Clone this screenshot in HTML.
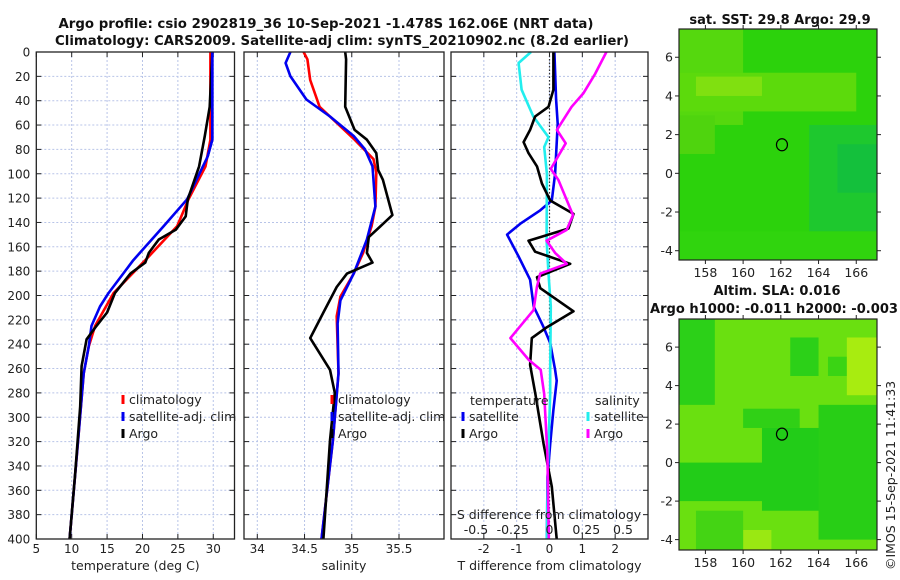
<!DOCTYPE html>
<html><head><meta charset="utf-8"><style>
html,body{margin:0;padding:0;background:#fff}
svg{display:block;font-family:"DejaVu Sans","Liberation Sans",sans-serif}
</style></head><body>
<svg id="fig" width="900" height="580" viewBox="0 0 900 580" xmlns="http://www.w3.org/2000/svg">
<g font-weight="bold" font-size="13" fill="#111" text-anchor="middle">
<text x="326" y="28" textLength="535" lengthAdjust="spacingAndGlyphs">Argo profile: csio 2902819_36 10-Sep-2021 -1.478S 162.06E (NRT data)</text>
<text x="342" y="45" textLength="574" lengthAdjust="spacingAndGlyphs">Climatology: CARS2009. Satellite-adj clim: synTS_20210902.nc (8.2d earlier)</text>
</g>
<g id="panels"></g>
<g id="maps"></g>
</svg>
<script>
// ---------- data ----------
const depthTicks = [0,20,40,60,80,100,120,140,160,180,200,220,240,260,280,300,320,340,360,380,400];
const tempTicks = [5,10,15,20,25,30];
const salTicks = [34,34.5,35,35.5];
const tdiffTicks = [-2,-1,0,1,2];
const sdiffTicks = [-0.5,-0.25,0,0.25,0.5];
const sdiffLabels = ["-0.5","-0.25","0","0.25","0.5"];

const tArgoD = [0,45,69,94,121,135,146,154,165,173,182,198,214,225,236,258,291,346,400];
const tArgoV = [29.86,29.5,28.8,28.0,26.4,26.1,24.7,22.3,20.9,20.4,18.3,16.1,15.0,13.5,12.1,11.4,11.2,10.5,9.7];
const tClimD = [0,72,94,121,143,171,198,225,242,264,319,400];
const tClimV = [29.6,29.6,28.9,26.5,24.9,20.4,15.9,13.3,12.4,11.7,10.9,9.7];
const tSatD = [0,72,86,121,143,171,198,209,225,242,264,319,400];
const tSatV = [29.86,29.86,29.2,26.3,23.0,18.7,15.2,14.0,12.8,12.4,11.7,10.9,9.7];

const sArgoD = [0,6,45,64,72,83,97,105,134,152,165,173,182,193,214,235,261,280,319,400];
const sArgoV = [34.93,34.94,34.93,35.03,35.16,35.26,35.28,35.33,35.43,35.18,35.16,35.22,34.95,34.84,34.70,34.56,34.77,34.82,34.77,34.70];
const sClimD = [0,6,23,45,61,72,88,99,127,143,165,182,201,217,264,319,400];
const sClimV = [34.49,34.53,34.56,34.66,34.88,35.03,35.23,35.26,35.25,35.21,35.12,35.02,34.88,34.84,34.86,34.80,34.68];
const sSatD = [0,9,20,39,53,69,80,94,127,154,182,204,223,264,319,400];
const sSatV = [34.35,34.30,34.35,34.52,34.77,35.02,35.14,35.22,35.25,35.16,35.02,34.88,34.85,34.86,34.80,34.68];

const dtSatD = [0,39,59,100,122,130,141,150,168,187,209,226,239,261,270,294,322,349,400];
const dtSatV = [0.15,0.2,0.25,0.17,0.07,-0.28,-0.89,-1.29,-0.94,-0.59,-0.48,-0.18,0.02,0.17,0.22,0.12,0.02,-0.06,-0.08];
const dtArgoD = [0,31,45,53,64,74,83,94,108,122,133,145,155,164,174,185,194,213,226,235,257,281,322,357,400];
const dtArgoV = [0.12,0.12,-0.03,-0.44,-0.59,-0.79,-0.64,-0.38,-0.23,0.02,0.73,0.58,-0.64,-0.44,0.63,-0.38,-0.28,0.73,-0.08,-0.54,-0.59,-0.43,-0.18,0.07,0.22];
const dsSatD = [0,9,31,53,70,78,100,155,182,209,261,281,336,400];
const dsSatV = [-0.126,-0.21,-0.19,-0.11,-0.007,-0.036,-0.018,-0.02,-0.007,0.009,0.005,0.005,-0.01,-0.018];
const dsArgoD = [0,18,34,45,64,75,96,105,134,146,155,165,174,182,193,212,235,253,261,281,330,400];
const dsArgoV = [0.387,0.31,0.23,0.15,0.05,0.11,0.009,0.06,0.16,0.117,-0.02,0.038,0.117,-0.063,-0.086,-0.108,-0.266,-0.14,-0.06,-0.036,-0.014,-0.005];

const lonTicks = [158,160,162,164,166];
const latTicks = [6,4,2,0,-2,-4];

// ---------- helpers ----------
const NS="http://www.w3.org/2000/svg";
function el(tag, attrs, parent){const e=document.createElementNS(NS,tag);for(const k in attrs)e.setAttribute(k,attrs[k]);if(parent)parent.appendChild(e);return e;}
const TOP=52, BOT=539;
const yD = d => TOP + (BOT-TOP)*d/400;
function lin(d0,d1,r0,r1){return v=>r0+(v-d0)*(r1-r0)/(d1-d0);}
const panelsG=document.getElementById('panels');

function drawPanel(name,x0,x1,xs,ticks,labels,xtitle,showY){
  const g=el('g',{},panelsG);
  
  
  depthTicks.forEach(d=>{ if(d>0&&d<400){const l=el('line',{x1:x0,x2:x1,y1:yD(d),y2:yD(d),stroke:'#b8c4e8','stroke-width':1,'stroke-dasharray':'2,2'},g);
     }});
  ticks.forEach(t=>{const x=xs(t); if(x>x0+1&&x<x1-1){const l=el('line',{x1:x,x2:x,y1:TOP,y2:BOT,stroke:'#b8c4e8','stroke-width':1,'stroke-dasharray':'2,2'},g);
     }});
  depthTicks.forEach(d=>{el('line',{x1:x0,x2:x0+5,y1:yD(d),y2:yD(d),stroke:'#222'},g);el('line',{x1:x1-5,x2:x1,y1:yD(d),y2:yD(d),stroke:'#222'},g);
    if(showY){const t=el('text',{x:x0-6,y:yD(d)+4.5,'text-anchor':'end','font-size':12,fill:'#222'},g);t.textContent=d;
       }});
  ticks.forEach((v,i)=>{const x=xs(v);el('line',{x1:x,x2:x,y1:BOT,y2:BOT-5,stroke:'#222'},g);el('line',{x1:x,x2:x,y1:TOP,y2:TOP+5,stroke:'#222'},g);
    const t=el('text',{x:x,y:BOT+14,'text-anchor':'middle','font-size':12,fill:'#222'},g);t.textContent=labels[i];
     });
  const xt=el('text',{x:(x0+x1)/2,y:570,'text-anchor':'middle','font-size':12.5,fill:'#222'},g);xt.textContent=xtitle;
   
  return g;
}
function border(g,x0,x1){const r=el('rect',{x:x0,y:TOP,width:x1-x0,height:BOT-TOP,fill:'none',stroke:'#222','stroke-width':1.3},g);
   }
function series(g,name,ds,vs,xs,color){
  const pts=ds.map((d,i)=>xs(vs[i]).toFixed(1)+','+yD(d).toFixed(1)).join(' ');
  const p=el('polyline',{points:pts,fill:'none',stroke:color,'stroke-width':2.6,'stroke-linejoin':'round'},g);
   
}
function legend(g,x,y,color,label,name){
  const gg=el('g',{},g);
   
  el('rect',{x:x-1.5,y:y-9,width:3,height:9,fill:color},gg);
  const t=el('text',{x:x+6,y:y,'font-size':12.5,fill:'#222'},gg);t.textContent=label;
}

// Panel 1: temperature
const xT=lin(5,33,36.3,234.5);
const p1=drawPanel('temperature-panel',36.3,234.5,xT,tempTicks,tempTicks.map(String),'temperature (deg C)',true);
series(p1,'temp-climatology-line',tClimD,tClimV,xT,'#ff0000');
series(p1,'temp-satellite-line',tSatD,tSatV,xT,'#0000f0');
series(p1,'temp-argo-line',tArgoD,tArgoV,xT,'#000');
series(p1,'temp-satellite-line-top',tSatD.slice(0,3),tSatV.slice(0,3),xT,'#0000f0');
legend(p1,123,404,'#ff0000','climatology','legend-climatology');
legend(p1,123,421,'#0000f0','satellite-adj. clim','legend-satellite');
legend(p1,123,438,'#000','Argo','legend-argo');
border(p1,36.3,234.5);

// Panel 2: salinity
const xS=lin(34,35.5,257.3,399);
const p2=drawPanel('salinity-panel',244,444,xS,salTicks,salTicks.map(String),'salinity',false);
series(p2,'sal-climatology-line',sClimD,sClimV,xS,'#ff0000');
series(p2,'sal-satellite-line',sSatD,sSatV,xS,'#0000f0');
series(p2,'sal-argo-line',sArgoD,sArgoV,xS,'#000');
legend(p2,332,404,'#ff0000','climatology','legend-climatology');
legend(p2,332,421,'#0000f0','satellite-adj. clim','legend-satellite');
legend(p2,332,438,'#000','Argo','legend-argo');
border(p2,244,444);

// Panel 3: differences
const xDT=lin(-3,3,451,648);
const xDS=lin(-0.67,0.67,451,648);
const p3=drawPanel('difference-panel',451,648,xDT,tdiffTicks,tdiffTicks.map(String),'T difference from climatology',false);
const zl=el('line',{x1:xDT(0),x2:xDT(0),y1:TOP,y2:BOT,stroke:'#333','stroke-width':1.2,'stroke-dasharray':'1.5,2'},p3);
 
series(p3,'tdiff-satellite-line',dtSatD,dtSatV,xDT,'#0000f0');
series(p3,'sdiff-satellite-line',dsSatD,dsSatV,xDS,'#22eeee');
series(p3,'tdiff-argo-line',dtArgoD,dtArgoV,xDT,'#000');
series(p3,'sdiff-argo-line',dsArgoD,dsArgoV,xDS,'#ff00ff');
const lt1=el('text',{x:470,y:405,'font-size':12.5,fill:'#222'},p3);lt1.textContent='temperature';
 
const lt2=el('text',{x:595,y:405,'font-size':12.5,fill:'#222'},p3);lt2.textContent='salinity';
 
legend(p3,463,421,'#0000f0','satellite','legend-t-satellite');
legend(p3,463,438,'#000','Argo','legend-t-argo');
legend(p3,588,421,'#22eeee','satellite','legend-s-satellite');
legend(p3,588,438,'#ff00ff','Argo','legend-s-argo');
const st=el('text',{x:549,y:519,'text-anchor':'middle','font-size':12.5,fill:'#222'},p3);st.textContent='S difference from climatology';
 
sdiffTicks.forEach((v,i)=>{const t=el('text',{x:xDS(v),y:534,'text-anchor':'middle','font-size':12.5,fill:'#222'},p3);t.textContent=sdiffLabels[i];
   });
border(p3,451,648);

// ---------- maps ----------
const mapsG=document.getElementById('maps');
function drawMap(name,y0,y1,latTop,latBot,base,patches,title){
  const x0=679,x1=877;
  const g=el('g',{},mapsG);
   
  const lon=lin(156.6,167.1,x0,x1), lat=lin(latTop,latBot,y0,y1);
  el('rect',{x:x0,y:y0,width:x1-x0,height:y1-y0,fill:base},g);
  patches.forEach(p=>{el('rect',{x:lon(p[0]),y:lat(p[3]),width:lon(p[1])-lon(p[0]),height:lat(p[2])-lat(p[3]),fill:p[4]},g);});
  const c=el('ellipse',{cx:lon(162.06),cy:lat(1.478),rx:5.5,ry:6,fill:'none',stroke:'#000','stroke-width':1.2},g);
   
  el('rect',{x:x0,y:y0,width:x1-x0,height:y1-y0,fill:'none',stroke:'#222','stroke-width':1.2},g);
  latTicks.forEach(v=>{const y=lat(v);el('line',{x1:x0-4,x2:x0,y1:y,y2:y,stroke:'#222'},g);el('line',{x1:x1,x2:x1+4,y1:y,y2:y,stroke:'#222'},g);
    const t=el('text',{x:x0-6,y:y+4.5,'text-anchor':'end','font-size':12.5,fill:'#222'},g);t.textContent=v;
     });
  lonTicks.forEach(v=>{const x=lon(v);el('line',{x1:x,x2:x,y1:y1,y2:y1+4,stroke:'#222'},g);el('line',{x1:x,x2:x,y1:y0-4,y2:y0,stroke:'#222'},g);
    const t=el('text',{x:x,y:y1+17,'text-anchor':'middle','font-size':12.5,fill:'#222'},g);t.textContent=v;
     });
  title.forEach(tt=>{const a={x:tt[0],y:tt[1],'text-anchor':'middle','font-size':13,'font-weight':'bold',fill:'#111'};
    if(tt[3]){a.textLength=tt[3];a.lengthAdjust='spacingAndGlyphs';}
    const t=el('text',a,g);t.textContent=tt[2];
     });
}
drawMap('sst-map',29,260,7.46,-4.48,'#2cd20c',[
  [156.6,160,2.5,7.46,'#55d80e'],[156.6,166,3.2,5.2,'#5cda0c'],[157.5,161,4,5,'#80e010'],
  [156.6,158.5,1,3,'#4fd40e'],[163.5,167.1,-3,2.5,'#1ec82e'],[165,167.1,-1,1.5,'#14c03c'],[156.6,167.1,-4.48,-3,'#30d40e']
],[[780,24,'sat. SST: 29.8 Argo: 29.9',0]]);
drawMap('sla-map',319,550,7.46,-4.54,'#6ae010',[
  [156.6,158.5,3,7.46,'#2cd018'],[162.5,164,4.5,6.5,'#2cd018'],[164.5,166,4.5,5.5,'#3ad414'],
  [161,167.1,-2.5,1.8,'#22cc18'],[156.6,167.1,-2,0,'#22cc18'],[164,167.1,-4,3,'#28ce16'],
  [160,163,1.8,2.8,'#30d016'],[165.5,167.1,3.5,6.5,'#a8ec10'],[160,161.5,-4.54,-3.5,'#9ae812'],[157.5,160,-4.54,-2.5,'#44d414']
],[[777,295,'Altim. SLA: 0.016',0],[774,313,'Argo h1000: -0.011 h2000: -0.003',248]]);
const cr=el('text',{x:0,y:0,'font-size':12.5,fill:'#222','transform':'translate(895,570) rotate(-90)'},mapsG);
cr.textContent='©IMOS 15-Sep-2021 11:41:33';
 
</script>
</body></html>
